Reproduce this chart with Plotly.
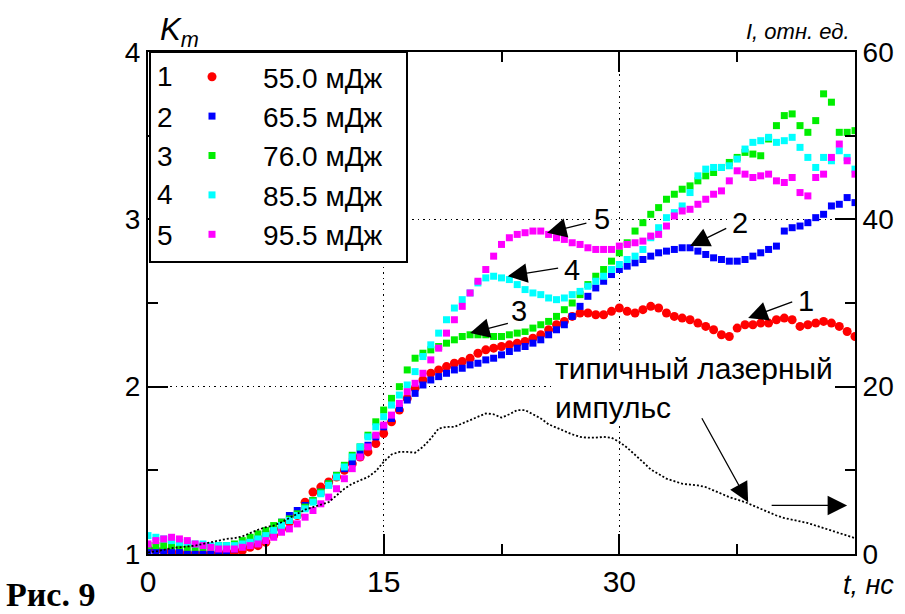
import plotly.graph_objects as go

# ---------------- data ----------------
t = [i * 0.5 for i in range(91)]  # time, ns (0 ... 45)

k1 = [1.03, 1.02, 1.02, 1.01, 1.01, 1.00, 1.00, 1.00, 1.00, 1.00,
      1.01, 1.01, 1.02, 1.04, 1.05, 1.07, 1.11, 1.15, 1.19, 1.23,
      1.31, 1.37, 1.40, 1.43, 1.46, 1.50, 1.54, 1.58, 1.61, 1.66,
      1.72, 1.79, 1.86, 1.93, 1.99, 2.04, 2.08, 2.10, 2.12, 2.14,
      2.15, 2.17, 2.20, 2.22, 2.23, 2.24, 2.25, 2.26, 2.27, 2.29,
      2.31, 2.34, 2.37, 2.39, 2.42, 2.44, 2.44, 2.43, 2.43, 2.45,
      2.47, 2.45, 2.44, 2.46, 2.48, 2.47, 2.44, 2.42, 2.41, 2.40,
      2.38, 2.36, 2.34, 2.31, 2.30, 2.35, 2.37, 2.37, 2.38, 2.38,
      2.40, 2.41, 2.40, 2.36, 2.37, 2.38, 2.39, 2.38, 2.36, 2.33, 2.30]

k2 = [1.02, 1.02, 1.01, 1.01, 1.01, 1.00, 1.00, 1.00, 1.00, 1.01,
      1.02, 1.03, 1.05, 1.07, 1.09, 1.12, 1.15, 1.19, 1.23, 1.26,
      1.29, 1.32, 1.37, 1.42, 1.47, 1.51, 1.55, 1.60, 1.65, 1.70,
      1.76, 1.81, 1.87, 1.92, 1.96, 2.01, 2.04, 2.06, 2.08, 2.10,
      2.11, 2.13, 2.14, 2.16, 2.17, 2.19, 2.21, 2.23, 2.24, 2.26,
      2.28, 2.31, 2.34, 2.37, 2.42, 2.48, 2.54, 2.59, 2.63, 2.67,
      2.70, 2.72, 2.74, 2.76, 2.78, 2.80, 2.81, 2.82, 2.83, 2.83,
      2.81, 2.79, 2.77, 2.76, 2.75, 2.75, 2.76, 2.78, 2.80, 2.82,
      2.84, 2.93, 2.95, 2.96, 2.98, 3.01, 3.03, 3.08, 3.09, 3.13, 3.10]

k3 = [1.05, 1.05, 1.05, 1.05, 1.05, 1.04, 1.04, 1.04, 1.04, 1.05,
      1.05, 1.06, 1.08, 1.10, 1.12, 1.14, 1.17, 1.19, 1.21, 1.24,
      1.28, 1.32, 1.37, 1.42, 1.47, 1.53, 1.59, 1.64, 1.71, 1.79,
      1.86, 1.93, 2.00, 2.10, 2.17, 2.20, 2.22, 2.24, 2.26, 2.28,
      2.30, 2.31, 2.31, 2.31, 2.30, 2.30, 2.31, 2.32, 2.33, 2.35,
      2.37, 2.39, 2.42, 2.46, 2.50, 2.55, 2.61, 2.66, 2.70, 2.75,
      2.80, 2.86, 2.93, 2.98, 3.03, 3.07, 3.12, 3.15, 3.18, 3.20,
      3.23, 3.26, 3.28, 3.31, 3.34, 3.37, 3.40, 3.39, 3.38, 3.48,
      3.56, 3.62, 3.63, 3.56, 3.52, 3.59, 3.75, 3.70, 3.52, 3.52, 3.53]

k4 = [1.11, 1.10, 1.09, 1.08, 1.07, 1.07, 1.06, 1.06, 1.05, 1.05,
      1.05, 1.05, 1.06, 1.07, 1.09, 1.11, 1.14, 1.17, 1.20, 1.23,
      1.27, 1.31, 1.36, 1.41, 1.46, 1.52, 1.58, 1.64, 1.70, 1.76,
      1.82, 1.89, 1.95, 2.01, 2.09, 2.18, 2.25, 2.32, 2.40, 2.47,
      2.52, 2.56, 2.62, 2.65, 2.66, 2.65, 2.64, 2.61, 2.58, 2.56,
      2.55, 2.53, 2.52, 2.53, 2.55, 2.57, 2.60, 2.63, 2.66, 2.70,
      2.73, 2.76, 2.78, 2.82, 2.89, 2.95, 3.01, 3.04, 3.08, 3.16,
      3.26, 3.30, 3.31, 3.31, 3.32, 3.36, 3.42, 3.46, 3.47, 3.49,
      3.46, 3.47, 3.49, 3.43, 3.37, 3.31, 3.37, 3.35, 3.41, 3.37, 3.30]

k5 = [1.06, 1.08, 1.09, 1.10, 1.09, 1.08, 1.06, 1.05, 1.04, 1.03,
      1.03, 1.03, 1.04, 1.05, 1.06, 1.08, 1.10, 1.13, 1.15, 1.18,
      1.22, 1.26, 1.30, 1.34, 1.39, 1.45, 1.51, 1.58, 1.64, 1.71,
      1.77, 1.83, 1.90, 1.97, 2.02, 2.08, 2.16, 2.23, 2.32, 2.40,
      2.48, 2.56, 2.63, 2.70, 2.78, 2.85, 2.89, 2.91, 2.92, 2.93,
      2.93, 2.91, 2.89, 2.88, 2.86, 2.85, 2.83, 2.82, 2.82, 2.82,
      2.84, 2.85, 2.86, 2.87, 2.90, 2.91, 2.96, 3.02, 3.05, 3.06,
      3.09, 3.12, 3.15, 3.17, 3.23, 3.29, 3.27, 3.25, 3.26, 3.27,
      3.23, 3.22, 3.25, 3.16, 3.14, 3.25, 3.27, 3.37, 3.45, 3.35, 3.27]

pulse = [0.2, 0.3, 0.5, 0.7, 0.8, 0.9, 1.0, 1.2, 1.4, 1.6,
         1.8, 1.9, 2.1, 2.5, 2.9, 3.2, 3.4, 3.8, 4.3, 4.9,
         5.3, 5.6, 5.9, 6.2, 7.0, 7.8, 8.4, 8.8, 9.2, 9.9,
         11.0, 11.9, 12.2, 12.2, 12.1, 12.8, 13.8, 15.0, 15.2, 15.2,
         15.6, 16.0, 16.4, 16.8, 16.7, 16.3, 16.7, 17.2, 17.2, 16.7,
         16.2, 15.5, 15.1, 14.7, 14.3, 14.0, 13.9, 13.9, 14.0, 13.9,
         13.4, 12.7, 11.9, 11.0, 10.1, 9.5, 9.0, 8.7, 8.4, 8.3,
         8.2, 8.0, 7.6, 7.2, 6.8, 6.5, 6.2, 5.8, 5.4, 5.0,
         4.6, 4.3, 4.1, 3.9, 3.7, 3.4, 3.1, 2.8, 2.5, 2.2, 1.9]

series_nums = ["1", "2", "3", "4", "5"]
energies = ["55.0 мДж", "65.5 мДж", "76.0 мДж", "85.5 мДж", "95.5 мДж"]
colors = ["#ff0000", "#0000ff", "#00ee00", "#00ffff", "#ff00ff"]
symbols = ["circle", "square", "square", "square", "square"]
sizes = [9, 7, 7, 7, 7]
kdata = [k1, k2, k3, k4, k5]

x_ticks = [0, 15, 30, 45]
x_ticktext = ["0", "15", "30", " "]
y_ticks = [1, 2, 3, 4]
y2_ticks = [0, 20, 40, 60]

# ---------------- layout helpers (pixel -> paper) ----------------
W, H = 905, 614
L, R, T, B = 148, 855, 52, 554


def xp(px):
    return (px - L) / (R - L)


def yp(py):
    return (B - py) / (B - T)


FONT = "Liberation Sans, Arial, sans-serif"
NBSP = "\u00a0"

fig = go.Figure()

for n, e, c, s, sz, k in zip(series_nums, energies, colors, symbols, sizes, kdata):
    fig.add_trace(go.Scatter(
        x=t, y=k, mode="markers", name=NBSP * 4 + e,
        marker=dict(color=c, symbol=s, size=sz, line=dict(width=0)),
    ))

fig.add_trace(go.Scatter(
    x=t, y=pulse, mode="lines", yaxis="y2", showlegend=False,
    line=dict(color="black", width=1.8, dash="2px,2px"),
))

tickfont = dict(family=FONT, size=28, color="black")

fig.update_layout(
    width=W, height=H,
    margin=dict(l=L, r=W - R, t=T, b=H - B),
    plot_bgcolor="white", paper_bgcolor="white",
    showlegend=True,
    legend=dict(
        x=xp(192), y=1.0, xanchor="left", yanchor="top",
        bgcolor="rgba(0,0,0,0)", borderwidth=0,
        font=dict(family=FONT, size=28, color="black"),
        itemsizing="trace",
    ),
    xaxis=dict(
        range=[0, 45], tickmode="array", tickvals=x_ticks, ticktext=x_ticktext,
        ticks="inside", ticklen=20, tickwidth=2, tickcolor="black",
        minor=dict(tickmode="array", tickvals=[7.5, 22.5, 37.5], ticks="inside",
                   ticklen=10, tickwidth=2, tickcolor="black", showgrid=False),
        showline=True, linecolor="black", linewidth=2, mirror="ticks",
        showgrid=True, gridcolor="black", gridwidth=1.2, griddash="1.5px,4px",
        zeroline=False,
        tickfont=dict(family=FONT, size=30, color="black"),
    ),
    yaxis=dict(
        range=[1, 4], tickmode="array", tickvals=y_ticks,
        ticks="inside", ticklen=20, tickwidth=2, tickcolor="black",
        minor=dict(tickmode="array", tickvals=[1.5, 2.5, 3.5], ticks="inside",
                   ticklen=10, tickwidth=2, tickcolor="black", showgrid=False),
        showline=True, linecolor="black", linewidth=2, mirror=True,
        showgrid=True, gridcolor="black", gridwidth=1.2, griddash="1.5px,4px",
        zeroline=False, tickfont=tickfont,
    ),
    yaxis2=dict(
        range=[0, 60], overlaying="y", side="right", tickmode="array", tickvals=y2_ticks,
        ticks="inside", ticklen=20, tickwidth=2, tickcolor="black",
        minor=dict(tickmode="array", tickvals=[10, 30, 50], ticks="inside",
                   ticklen=10, tickwidth=2, tickcolor="black", showgrid=False),
        showline=True, linecolor="black", linewidth=2,
        showgrid=False, zeroline=False, tickfont=tickfont,
    ),
)

# legend frame (white box over the plot)
fig.add_shape(type="rect", xref="paper", yref="paper",
              x0=xp(150), x1=xp(407), y0=yp(262), y1=yp(52),
              fillcolor="white", line=dict(color="black", width=2), layer="above")

# legend numbers
row_y = [77, 117, 156, 195, 235]
for n, ry in zip(series_nums, row_y):
    fig.add_annotation(xref="paper", yref="paper", x=xp(155), y=yp(ry),
                       xanchor="left", yanchor="middle", text=n, showarrow=False,
                       font=dict(family=FONT, size=28, color="black"))

# curve labels with arrows: (label, head t, head K, tail t, tail K, label t, label K)
arrows = [
    ("5", 25.4, 2.92, 28.0, 2.98, 28.9, 3.00),
    ("4", 22.9, 2.66, 26.2, 2.71, 27.0, 2.70),
    ("3", 20.5, 2.32, 23.0, 2.38, 23.6, 2.45),
    ("2", 34.5, 2.84, 36.9, 2.95, 37.7, 2.98),
    ("1", 38.2, 2.41, 41.1, 2.51, 41.9, 2.51),
]
ARW = dict(showarrow=True, arrowhead=2, arrowsize=3, arrowwidth=1.3,
           arrowcolor="black", standoff=0, startstandoff=0)
for lab, hx, hy, tx, ty, lx, ly in arrows:
    fig.add_annotation(x=hx, y=hy, ax=tx, ay=ty, xref="x", yref="y", axref="x", ayref="y",
                       text="", **ARW)
    fig.add_annotation(x=lx, y=ly, xref="x", yref="y", text=lab, showarrow=False,
                       bgcolor="white", font=dict(family=FONT, size=29, color="black"))

# "typical laser pulse" text and arrows
fig.add_annotation(xref="paper", yref="paper", x=xp(553), y=yp(388),
                   xanchor="left", yanchor="middle", align="left",
                   text="типичный лазерный<br>импульс", showarrow=False,
                   bgcolor="white", font=dict(family=FONT, size=30, color="black"))
fig.add_annotation(x=38.2, y=1.31, ax=35.2, ay=1.82, xref="x", yref="y", axref="x", ayref="y",
                   text="", **ARW)
fig.add_annotation(x=44.5, y=1.29, ax=39.6, ay=1.29, xref="x", yref="y", axref="x", ayref="y",
                   text="", **ARW)

# axis titles and caption
fig.add_annotation(xref="paper", yref="paper", x=xp(158), y=yp(32), xanchor="left",
                   yanchor="middle", text="<i>K<sub>m</sub></i>", showarrow=False,
                   font=dict(family=FONT, size=31, color="black"))
fig.add_annotation(xref="paper", yref="paper", x=xp(852), y=yp(31), xanchor="right",
                   yanchor="middle", text="<i>I, отн. ед.</i>", showarrow=False,
                   font=dict(family=FONT, size=22, color="black"))
fig.add_annotation(xref="paper", yref="paper", x=xp(868), y=yp(585), xanchor="center",
                   yanchor="middle", text="<i>t, нс</i>", showarrow=False,
                   font=dict(family=FONT, size=27, color="black"))
fig.add_annotation(xref="paper", yref="paper", x=xp(4), y=yp(594), xanchor="left",
                   yanchor="middle", text="<b>Рис. 9</b>", showarrow=False,
                   font=dict(family="Liberation Serif, Times New Roman, serif", size=34,
                             color="black"))

fig.write_html("out.html", config={"displayModeBar": False},
               post_script="document.body.style.margin='0px';")
